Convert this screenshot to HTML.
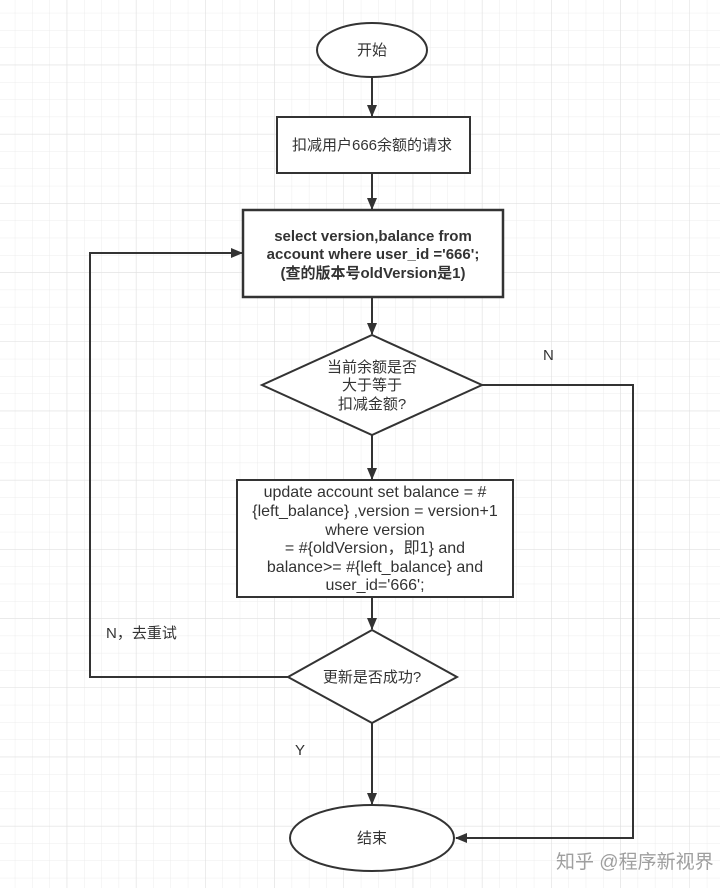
<!DOCTYPE html>
<html><head><meta charset="utf-8"><style>
html,body{margin:0;padding:0;background:#fff}
svg{display:block}
text{font-family:"Liberation Sans","Noto Sans CJK SC",sans-serif;font-size:15px;fill:#333}
</style></head><body>
<svg width="720" height="888" viewBox="0 0 720 888" xmlns="http://www.w3.org/2000/svg">
<defs>
<pattern id="g" x="-2" y="-4" width="17.3" height="17.3" patternUnits="userSpaceOnUse">
<path d="M17.3 0V17.3M0 17.3H17.3" stroke="#ececec" stroke-width="1" fill="none"/>
</pattern>
<pattern id="G" x="-2" y="-4" width="69.2" height="69.2" patternUnits="userSpaceOnUse">
<path d="M69.2 0V69.2M0 69.2H69.2" stroke="#dedede" stroke-width="1" fill="none"/>
</pattern>
<marker id="a" markerWidth="12" markerHeight="12" refX="11" refY="6" orient="auto" markerUnits="userSpaceOnUse">
<path d="M0,1 L12,6 L0,11 Z" fill="#333"/>
</marker>
</defs>
<rect width="720" height="888" fill="url(#g)"/>
<rect width="720" height="888" fill="url(#G)"/>
<g stroke="#333" stroke-width="2" fill="#fff">
<ellipse cx="372" cy="50" rx="55" ry="27"/>
<rect x="277" y="117" width="193" height="56"/>
<rect x="243" y="210" width="260" height="87" stroke-width="2.5"/>
<polygon points="262,385 372,335 482,385 372,435"/>
<rect x="237" y="480" width="276" height="117"/>
<polygon points="288,677 372,630 457,677 372,723"/>
<ellipse cx="372" cy="838" rx="82" ry="33"/>
</g>
<g stroke="#333" stroke-width="2" fill="none" marker-end="url(#a)">
<line x1="372" y1="77" x2="372" y2="116"/>
<line x1="372" y1="173" x2="372" y2="209"/>
<line x1="372" y1="297" x2="372" y2="334"/>
<line x1="372" y1="435" x2="372" y2="479"/>
<line x1="372" y1="597" x2="372" y2="629"/>
<line x1="372" y1="723" x2="372" y2="804"/>
<polyline points="288,677 90,677 90,253 242,253"/>
<polyline points="482,385 633,385 633,838 456,838"/>
</g>
<g text-anchor="middle">
<text x="372" y="55">开始</text>
<text x="372" y="150">扣减用户666余额的请求</text>
<text x="373" y="241" style="font-weight:bold">select version,balance from</text>
<text x="373" y="259" style="font-weight:bold">account where user_id ='666';</text>
<text x="373" y="278" style="font-weight:bold">(查的版本号oldVersion是1)</text>
<text x="372" y="372">当前余额是否</text>
<text x="372" y="390">大于等于</text>
<text x="372" y="409">扣减金额?</text>
<text x="375" y="497" style="font-size:16px">update account set balance = #</text>
<text x="375" y="516" style="font-size:16px">{left_balance} ,version = version+1</text>
<text x="375" y="535" style="font-size:16px">where version</text>
<text x="375" y="553" style="font-size:16px">= #{oldVersion，即1} and</text>
<text x="375" y="572" style="font-size:16px">balance&gt;= #{left_balance} and</text>
<text x="375" y="590" style="font-size:16px">user_id='666';</text>
<text x="372" y="682">更新是否成功?</text>
<text x="372" y="843">结束</text>
</g>
<text x="543" y="360">N</text>
<text x="106" y="638">N，去重试</text>
<text x="295" y="755">Y</text>
<text x="556" y="868" style="font-size:19px;fill:#888;opacity:.8">知乎 @程序新视界</text>
</svg>
</body></html>
